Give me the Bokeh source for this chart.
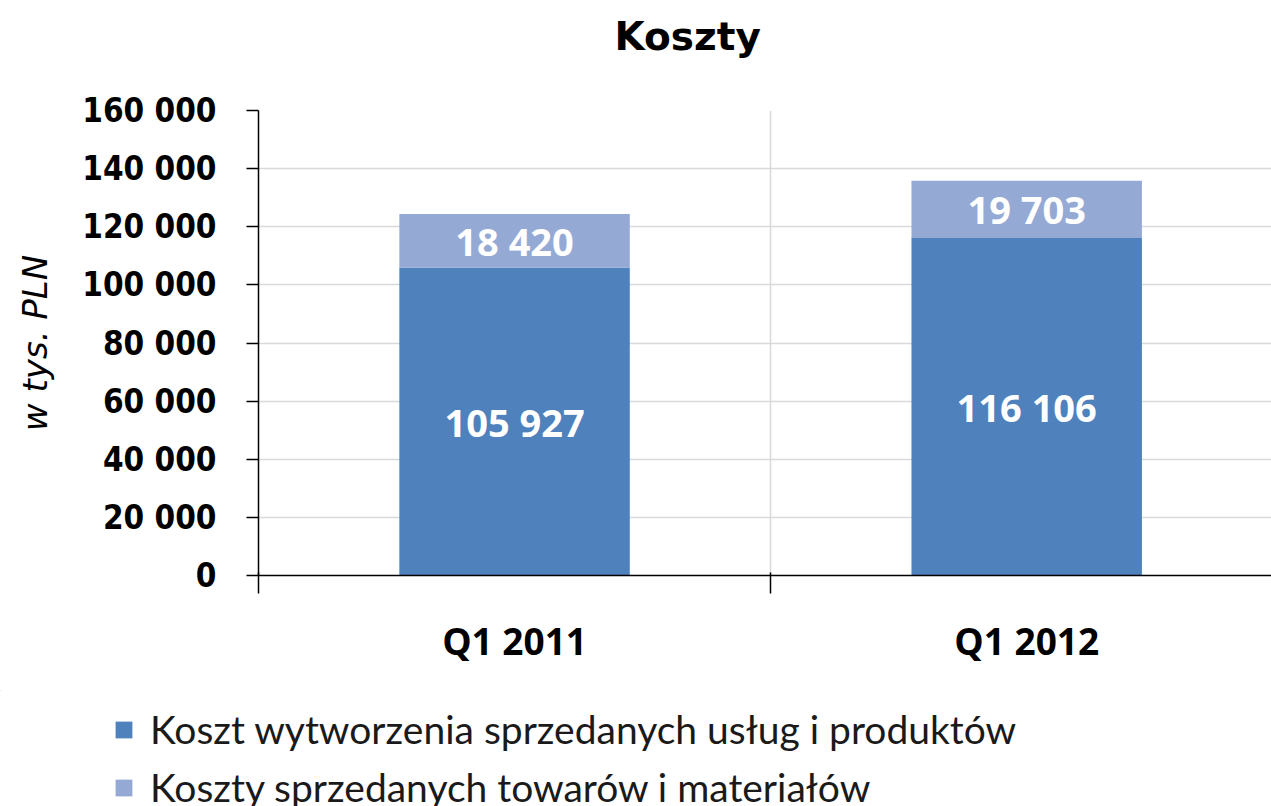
from bokeh.plotting import figure
from bokeh.layouts import column, row
from bokeh.models import (ColumnDataSource, FixedTicker, Range1d, Legend, LegendItem)
from bokeh.core.properties import value
from bokeh.embed import file_html
from bokeh.resources import INLINE

# ---- data ----
categories = ["Q1 2011", "Q1 2012"]
koszt_wytworzenia = [105927, 116106]
koszty_towarow = [18420, 19703]
series_names = ["Koszt wytworzenia sprzedanych usług i produktów",
                "Koszty sprzedanych towarów i materiałów"]
y_ticks = [0, 20000, 40000, 60000, 80000, 100000, 120000, 140000, 160000]
y_tick_labels = ["0", "20 000", "40 000", "60 000", "80 000", "100 000",
                 "120 000", "140 000", "160 000"]
title_text = "Koszty"
y_axis_title = "w tys. PLN"

# ---- styles ----
c_dark = "#4F81BD"
c_light = "#95A9D5"
grid_col = "#D9D9D9"

def fmt(v):
    return f"{v:,}".replace(",", " ")

x_pos = [i + 0.5 for i in range(len(categories))]
tops_1 = list(koszt_wytworzenia)
tops_2 = [a + b for a, b in zip(koszt_wytworzenia, koszty_towarow)]

src = ColumnDataSource(dict(
    x=x_pos,
    b1=[0] * len(categories),
    t1=tops_1,
    t2=tops_2,
    mid1=[v / 2 for v in koszt_wytworzenia],
    mid2=[a + b / 2 for a, b in zip(koszt_wytworzenia, koszty_towarow)],
    lab1=[fmt(v) for v in koszt_wytworzenia],
    lab2=[fmt(v) for v in koszty_towarow],
))

p = figure(width=1271, height=690,
           x_range=Range1d(0, 1.978), y_range=Range1d(0, 160000),
           output_backend="svg", toolbar_location=None,
           min_border_left=258, min_border_right=0,
           min_border_top=110, min_border_bottom=115,
           title=title_text + "\n")

p.outline_line_color = None
p.background_fill_color = "white"
p.border_fill_color = "white"

# title (trailing empty line lifts the visible line upward)
p.title.align = "left"
p.title.offset = 356
p.title.text_font = "DejaVu Sans"
p.title.text_font_style = "bold"
p.title.text_font_size = "39px"
p.title.text_color = "black"
p.title.standoff = 14

r1 = p.vbar(x="x", bottom="b1", top="t1", width=0.45, source=src,
            fill_color=c_dark, line_color=None)
r2 = p.vbar(x="x", bottom="t1", top="t2", width=0.45, source=src,
            fill_color=c_light, line_color=None)

p.text(x="x", y="mid1", text="lab1", source=src, text_align="center",
       text_baseline="middle", text_color="white",
       text_font=value("Open Sans"), text_font_style="bold",
       text_font_size="38px")
p.text(x="x", y="mid2", text="lab2", source=src, text_align="center",
       text_baseline="middle", text_color="white",
       text_font=value("Open Sans"), text_font_style="bold",
       text_font_size="38px")

# y axis
ya = p.yaxis[0]
ya.ticker = FixedTicker(ticks=y_ticks)
ya.major_label_overrides = {t: l for t, l in zip(y_ticks, y_tick_labels)}
ya.major_label_text_font = "DejaVu Sans Condensed"
ya.major_label_text_font_style = "bold"
ya.major_label_text_font_size = "33px"
ya.major_label_text_color = "black"
ya.major_label_standoff = 30
ya.major_tick_out = 12
ya.major_tick_in = 0
ya.minor_tick_out = 0
ya.minor_tick_in = 0
ya.axis_line_color = "black"
ya.axis_line_width = 1.5
ya.major_tick_line_width = 1.5
ya.axis_label = y_axis_title
ya.axis_label_text_font = "DejaVu Sans"
ya.axis_label_text_font_style = "italic"
ya.axis_label_text_font_size = "34px"
ya.axis_label_text_color = "black"
ya.axis_label_standoff = 24

# x axis: labels at centers, ticks at boundaries (minor ticks)
xa = p.xaxis[0]
xa.ticker = FixedTicker(ticks=x_pos, minor_ticks=list(range(len(categories) + 1)))
xa.major_label_overrides = {xp: c for xp, c in zip(x_pos, categories)}
xa.major_label_text_font = "Open Sans"
xa.major_label_text_font_style = "bold"
xa.major_label_text_font_size = "37px"
xa.major_label_text_color = "black"
xa.major_label_standoff = 21
xa.major_tick_line_color = None
xa.major_tick_out = 0
xa.major_tick_in = 0
xa.minor_tick_out = 18
xa.minor_tick_in = 3
xa.minor_tick_line_color = "black"
xa.minor_tick_line_width = 1.5
xa.axis_line_color = "black"
xa.axis_line_width = 1.5

# grids
p.ygrid.ticker = FixedTicker(ticks=y_ticks)
p.ygrid.grid_line_color = grid_col
p.ygrid.grid_line_width = 1.5
p.xgrid.ticker = FixedTicker(ticks=list(range(1, len(categories))))
p.xgrid.grid_line_color = grid_col
p.xgrid.grid_line_width = 1.5

# legend in a strip below the chart (legend-only bars have zero width, off range)
pl = figure(width=1271, height=116, x_range=Range1d(50, 51),
            y_range=Range1d(-2e6, -1e6),
            output_backend="svg", toolbar_location=None,
            min_border=0, outline_line_color=None)
pl.axis.visible = False
pl.grid.visible = False
lr1 = pl.vbar(x="x", bottom="b1", top="t1", width=0, source=src,
              fill_color=c_dark, line_color=None)
lr2 = pl.vbar(x="x", bottom="t1", top="t2", width=0, source=src,
              fill_color=c_light, line_color=None)
legend = Legend(items=[LegendItem(label=series_names[0], renderers=[lr1]),
                       LegendItem(label=series_names[1], renderers=[lr2])],
                location=(113, -4), orientation="vertical",
                glyph_width=21, glyph_height=21, label_standoff=16,
                spacing=12, padding=0, margin=0,
                label_text_font="Lato", label_text_font_size="39px",
                label_text_color="#1a1a1a", label_height=42,
                border_line_color=None, background_fill_alpha=0)
pl.add_layout(legend, "center")

layout = column(p, row(pl, spacing=0), spacing=0)
open("out.html", "w").write(file_html(layout, INLINE))
